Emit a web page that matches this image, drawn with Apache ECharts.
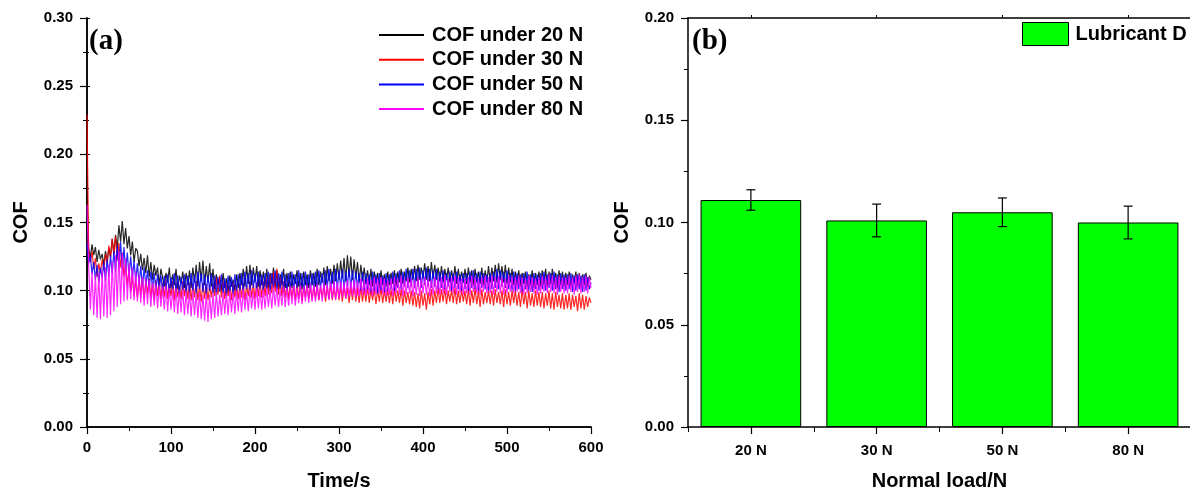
<!DOCTYPE html>
<html>
<head>
<meta charset="utf-8">
<script src="https://cdn.jsdelivr.net/npm/echarts@6/dist/echarts.min.js"></script>
<style>
  html, body { margin: 0; padding: 0; background: #fff; }
  #chart { width: 1190px; height: 491px; }
</style>
</head>
<body>
<div id="chart"></div>
<script>
// ---- Panel (a): friction coefficient vs. time, one sample every 2 s ----
const SAMPLE_STEP_S = 2;

const cof20N = [
  0.170,0.131,0.124,0.134,0.126,0.132,0.121,0.130,0.123,0.127,0.119,0.129,0.122,0.131,0.125,
  0.138,0.127,0.141,0.131,0.148,0.136,0.151,0.134,0.146,0.131,0.140,0.126,0.136,0.121,0.131,
  0.129,0.118,0.127,0.115,0.124,0.113,0.126,0.110,0.121,0.108,0.119,0.111,0.117,0.104,0.116,
  0.115,0.103,0.113,0.106,0.117,0.102,0.112,0.104,0.116,0.101,0.111,0.105,0.114,0.102,0.113,
  0.104,0.115,0.102,0.117,0.106,0.119,0.103,0.121,0.107,0.122,0.104,0.118,0.106,0.120,0.103,
  0.116,0.101,0.112,0.104,0.110,0.100,0.113,0.102,0.109,0.099,0.111,0.103,0.108,0.100,0.112,
  0.102,0.113,0.104,0.116,0.103,0.118,0.105,0.119,0.104,0.117,0.106,0.118,0.103,0.115,0.104,
  0.114,0.103,0.116,0.102,0.113,0.105,0.117,0.103,0.115,0.101,0.112,0.104,0.116,0.102,0.113,
  0.103,0.114,0.102,0.112,0.105,0.115,0.103,0.113,0.101,0.114,0.104,0.112,0.102,0.115,0.104,
  0.113,0.103,0.116,0.104,0.114,0.106,0.117,0.104,0.118,0.107,0.116,0.105,0.119,0.107,0.120,
  0.108,0.122,0.109,0.124,0.107,0.126,0.110,0.125,0.108,0.123,0.109,0.121,0.106,0.119,0.107,
  0.117,0.105,0.115,0.104,0.116,0.103,0.114,0.105,0.113,0.102,0.115,0.104,0.112,0.103,0.114,
  0.104,0.113,0.105,0.115,0.103,0.114,0.106,0.116,0.105,0.114,0.107,0.117,0.106,0.116,0.108,
  0.118,0.107,0.119,0.108,0.117,0.109,0.120,0.108,0.118,0.107,0.121,0.109,0.119,0.108,0.117,
  0.107,0.118,0.106,0.116,0.108,0.117,0.106,0.115,0.107,0.118,0.105,0.116,0.107,0.114,0.106,
  0.116,0.105,0.117,0.106,0.115,0.104,0.116,0.106,0.114,0.105,0.117,0.104,0.115,0.106,0.118,
  0.106,0.117,0.107,0.119,0.106,0.120,0.108,0.118,0.106,0.119,0.105,0.117,0.106,0.116,0.104,
  0.114,0.104,0.115,0.103,0.113,0.105,0.114,0.103,0.112,0.104,0.115,0.102,0.113,0.104,0.114,
  0.103,0.115,0.104,0.116,0.103,0.114,0.105,0.116,0.104,0.113,0.102,0.115,0.104,0.114,0.103,
  0.113,0.104,0.114,0.103,0.112,0.105,0.114,0.103,0.113,0.102,0.112,0.104,0.113,0.103,0.111,
  0.108
];

const cof30N = [
  0.229,0.127,0.121,0.129,0.116,0.124,0.110,0.120,0.113,0.123,0.115,0.127,0.119,0.133,0.124,
  0.138,0.126,0.140,0.122,0.135,0.117,0.128,0.110,0.121,0.104,0.115,0.099,0.111,0.096,0.108,
  0.095,0.108,0.097,0.110,0.094,0.107,0.098,0.109,0.095,0.106,0.093,0.108,0.096,0.107,0.094,
  0.106,0.095,0.108,0.094,0.105,0.096,0.107,0.093,0.106,0.095,0.104,0.094,0.107,0.096,0.105,
  0.094,0.106,0.093,0.105,0.095,0.107,0.093,0.104,0.092,0.106,0.094,0.105,0.093,0.104,0.095,
  0.106,0.096,0.109,0.097,0.111,0.095,0.107,0.094,0.105,0.096,0.104,0.093,0.106,0.095,0.104,
  0.094,0.105,0.095,0.106,0.093,0.104,0.096,0.107,0.095,0.105,0.094,0.106,0.096,0.108,0.095,
  0.107,0.096,0.109,0.097,0.111,0.098,0.114,0.099,0.116,0.097,0.110,0.096,0.107,0.095,0.105,
  0.094,0.105,0.095,0.104,0.093,0.106,0.094,0.105,0.092,0.104,0.095,0.106,0.094,0.103,0.093,
  0.104,0.094,0.105,0.093,0.103,0.095,0.104,0.092,0.103,0.094,0.105,0.093,0.102,0.094,0.104,
  0.093,0.103,0.092,0.104,0.094,0.102,0.091,0.103,0.093,0.104,0.092,0.102,0.091,0.103,0.092,
  0.102,0.092,0.103,0.091,0.101,0.093,0.102,0.090,0.101,0.092,0.103,0.091,0.100,0.092,0.101,
  0.091,0.101,0.090,0.102,0.092,0.100,0.091,0.101,0.089,0.100,0.091,0.099,0.090,0.100,0.089,
  0.099,0.088,0.098,0.087,0.100,0.089,0.098,0.086,0.099,0.090,0.101,0.089,0.100,0.091,0.102,
  0.091,0.101,0.092,0.102,0.090,0.100,0.092,0.101,0.091,0.102,0.090,0.100,0.091,0.101,0.092,
  0.100,0.090,0.101,0.089,0.100,0.091,0.102,0.090,0.100,0.088,0.101,0.090,0.099,0.091,0.100,
  0.090,0.100,0.089,0.101,0.091,0.099,0.090,0.100,0.088,0.101,0.090,0.099,0.089,0.100,0.091,
  0.100,0.089,0.099,0.088,0.101,0.090,0.099,0.087,0.100,0.089,0.098,0.088,0.100,0.089,0.099,
  0.088,0.099,0.087,0.098,0.089,0.100,0.087,0.098,0.086,0.099,0.088,0.097,0.087,0.098,0.086,
  0.097,0.087,0.098,0.086,0.097,0.088,0.096,0.085,0.098,0.087,0.097,0.086,0.096,0.088,0.095,
  0.091
];

const cof50N = [
  0.134,0.120,0.126,0.112,0.121,0.108,0.119,0.106,0.117,0.109,0.121,0.107,0.123,0.110,0.126,
  0.112,0.129,0.114,0.133,0.117,0.136,0.116,0.132,0.114,0.128,0.111,0.125,0.109,0.122,0.107,
  0.120,0.105,0.118,0.103,0.117,0.104,0.115,0.101,0.114,0.102,0.113,0.100,0.112,0.101,0.111,
  0.099,0.111,0.100,0.112,0.098,0.110,0.101,0.113,0.099,0.111,0.097,0.110,0.100,0.112,0.098,
  0.111,0.099,0.113,0.100,0.112,0.098,0.114,0.101,0.113,0.099,0.112,0.097,0.111,0.100,0.113,
  0.098,0.111,0.097,0.110,0.099,0.112,0.098,0.109,0.096,0.111,0.099,0.110,0.097,0.112,0.099,
  0.112,0.100,0.113,0.099,0.114,0.101,0.113,0.100,0.115,0.102,0.113,0.100,0.114,0.101,0.112,
  0.100,0.113,0.101,0.114,0.099,0.113,0.102,0.115,0.100,0.113,0.101,0.114,0.099,0.112,0.100,
  0.113,0.101,0.114,0.100,0.112,0.102,0.115,0.100,0.113,0.099,0.114,0.101,0.112,0.100,0.113,
  0.101,0.114,0.100,0.115,0.102,0.113,0.101,0.115,0.102,0.116,0.101,0.114,0.102,0.116,0.101,
  0.115,0.102,0.116,0.101,0.114,0.103,0.116,0.102,0.115,0.101,0.114,0.102,0.113,0.100,0.114,
  0.100,0.113,0.101,0.112,0.099,0.114,0.100,0.112,0.098,0.113,0.100,0.111,0.099,0.113,0.100,
  0.112,0.101,0.114,0.100,0.113,0.102,0.115,0.101,0.114,0.103,0.116,0.102,0.115,0.103,0.116,
  0.102,0.116,0.103,0.117,0.102,0.115,0.104,0.117,0.103,0.116,0.102,0.115,0.103,0.116,0.101,
  0.114,0.102,0.115,0.101,0.113,0.103,0.114,0.100,0.113,0.102,0.114,0.101,0.112,0.100,0.113,
  0.101,0.113,0.100,0.114,0.102,0.115,0.101,0.113,0.100,0.114,0.102,0.113,0.101,0.112,0.100,
  0.113,0.101,0.114,0.102,0.116,0.101,0.115,0.103,0.114,0.102,0.115,0.101,0.113,0.100,0.114,
  0.100,0.113,0.101,0.112,0.099,0.113,0.101,0.114,0.100,0.112,0.099,0.113,0.101,0.112,0.100,
  0.113,0.101,0.114,0.100,0.112,0.102,0.113,0.100,0.114,0.101,0.112,0.099,0.113,0.101,0.112,
  0.100,0.112,0.101,0.113,0.099,0.111,0.100,0.112,0.101,0.111,0.099,0.112,0.100,0.110,0.101,
  0.106
];

const cof80N = [
  0.163,0.118,0.086,0.114,0.082,0.112,0.080,0.113,0.079,0.115,0.081,0.117,0.080,0.119,0.082,
  0.122,0.085,0.126,0.088,0.129,0.090,0.127,0.092,0.124,0.093,0.120,0.094,0.117,0.093,0.114,
  0.092,0.112,0.091,0.110,0.089,0.109,0.090,0.108,0.088,0.106,0.089,0.105,0.087,0.104,0.088,
  0.103,0.086,0.104,0.085,0.102,0.086,0.101,0.084,0.102,0.083,0.100,0.084,0.101,0.082,0.100,
  0.083,0.099,0.081,0.100,0.082,0.098,0.080,0.099,0.079,0.097,0.078,0.098,0.077,0.097,0.079,
  0.098,0.080,0.099,0.081,0.097,0.082,0.099,0.083,0.098,0.082,0.100,0.084,0.099,0.083,0.100,
  0.085,0.100,0.084,0.101,0.086,0.099,0.085,0.101,0.087,0.100,0.086,0.102,0.087,0.101,0.086,
  0.101,0.087,0.102,0.088,0.101,0.087,0.103,0.089,0.102,0.088,0.101,0.089,0.103,0.088,0.102,
  0.089,0.103,0.090,0.104,0.089,0.102,0.091,0.104,0.090,0.103,0.092,0.104,0.091,0.105,0.092,
  0.104,0.092,0.105,0.093,0.104,0.092,0.106,0.094,0.105,0.093,0.106,0.094,0.107,0.093,0.106,
  0.094,0.107,0.095,0.106,0.094,0.108,0.095,0.107,0.096,0.108,0.095,0.107,0.096,0.109,0.097,
  0.108,0.096,0.109,0.097,0.108,0.096,0.110,0.097,0.109,0.098,0.110,0.097,0.109,0.096,0.108,
  0.097,0.109,0.096,0.110,0.098,0.109,0.097,0.111,0.096,0.109,0.097,0.110,0.098,0.109,0.096,
  0.108,0.097,0.110,0.096,0.109,0.098,0.110,0.097,0.109,0.096,0.108,0.097,0.110,0.098,0.109,
  0.097,0.110,0.098,0.111,0.097,0.109,0.099,0.110,0.098,0.111,0.097,0.110,0.098,0.109,0.097,
  0.109,0.098,0.110,0.097,0.111,0.099,0.110,0.098,0.109,0.097,0.110,0.099,0.111,0.098,0.110,
  0.098,0.111,0.097,0.110,0.099,0.111,0.098,0.110,0.097,0.109,0.098,0.111,0.099,0.110,0.098,
  0.110,0.099,0.111,0.098,0.110,0.097,0.109,0.098,0.111,0.099,0.110,0.098,0.109,0.097,0.110,
  0.098,0.111,0.099,0.110,0.098,0.112,0.099,0.111,0.098,0.110,0.097,0.111,0.099,0.110,0.098,
  0.110,0.098,0.111,0.099,0.110,0.097,0.111,0.099,0.112,0.098,0.110,0.099,0.111,0.098,0.110,
  0.102
];

const lineNames = ['COF under 20 N', 'COF under 30 N', 'COF under 50 N', 'COF under 80 N'];
const lineColors = ['#000000', '#ff0000', '#0000ff', '#ff00ff'];
const timeTicks = [0, 100, 200, 300, 400, 500, 600];

// ---- Panel (b): mean COF per normal load with standard deviation ----
const loadLabels = ['20 N', '30 N', '50 N', '80 N'];
const meanCOF = [0.111, 0.101, 0.105, 0.100];
const stdCOF = [0.005, 0.008, 0.007, 0.008];
const barName = 'Lubricant D';

const SANS = '"Liberation Sans", Arial, sans-serif';
const SERIF = '"Liberation Serif", "Times New Roman", serif';
const AXIS_LINE = { show: true, lineStyle: { color: '#000', width: 1.5 } };
const tickLabel = { color: '#000', fontFamily: SANS, fontWeight: 'bold', fontSize: 15 };
const axisTitle = { color: '#000', fontFamily: SANS, fontWeight: 'bold', fontSize: 20 };

const toPairs = arr => arr.map((v, i) => [i * SAMPLE_STEP_S, v]);
const lineSeriesData = [cof20N, cof30N, cof50N, cof80N];

const chart = echarts.init(document.getElementById('chart'), null, { renderer: 'canvas' });

chart.setOption({
  animation: false,
  backgroundColor: '#fff',
  grid: [
    { left: 87, top: 18, width: 504, height: 409, outerBoundsMode: 'none', containLabel: false },
    { left: 688, top: 18, width: 503, height: 409, outerBoundsMode: 'none', containLabel: false }
  ],
  xAxis: [
    { // time axis, panel (a)
      type: 'value', gridIndex: 0, position: 'bottom',
      min: timeTicks[0], max: timeTicks[timeTicks.length - 1], interval: 100,
      axisLine: AXIS_LINE,
      axisTick: { show: true, inside: false, length: 7, lineStyle: { color: '#000', width: 1.2 } },
      minorTick: { show: true, splitNumber: 2, length: 4, lineStyle: { color: '#000', width: 1 } },
      axisLabel: Object.assign({ margin: 13 }, tickLabel),
      splitLine: { show: false },
      name: 'Time/s', nameLocation: 'middle', nameGap: 44, nameTextStyle: axisTitle
    },
    { // top frame, panel (a)
      type: 'value', gridIndex: 0, position: 'top', min: 0, max: 600, interval: 100,
      axisLine: AXIS_LINE, axisTick: { show: false }, axisLabel: { show: false },
      splitLine: { show: false }
    },
    { // load axis, panel (b): ticks at band boundaries
      type: 'category', gridIndex: 1, position: 'bottom', data: loadLabels,
      axisLine: AXIS_LINE,
      axisTick: { show: true, alignWithLabel: false, length: 5, lineStyle: { color: '#000', width: 1 } },
      axisLabel: Object.assign({ margin: 16 }, tickLabel),
      splitLine: { show: false },
      name: 'Normal load/N', nameLocation: 'middle', nameGap: 44, nameTextStyle: axisTitle
    },
    { // load axis, panel (b): ticks at category centres
      type: 'category', gridIndex: 1, position: 'bottom', data: loadLabels,
      axisLine: { show: false },
      axisTick: { show: true, alignWithLabel: true, length: 7, lineStyle: { color: '#000', width: 1.2 } },
      axisLabel: { show: false }, splitLine: { show: false }
    },
    { // top frame, panel (b)
      type: 'category', gridIndex: 1, position: 'top', data: loadLabels,
      axisLine: AXIS_LINE,
      axisTick: { show: true, alignWithLabel: true, length: 3, lineStyle: { color: '#000', width: 1 } },
      axisLabel: { show: false }, splitLine: { show: false }
    }
  ],
  yAxis: [
    {
      type: 'value', gridIndex: 0, position: 'left', min: 0, max: 0.3, interval: 0.05,
      axisLine: AXIS_LINE,
      axisTick: { show: true, length: 7, lineStyle: { color: '#000', width: 1.2 } },
      minorTick: { show: true, splitNumber: 2, length: 4, lineStyle: { color: '#000', width: 1 } },
      axisLabel: Object.assign({ margin: 14, formatter: v => v.toFixed(2) }, tickLabel),
      splitLine: { show: false },
      name: 'COF', nameLocation: 'middle', nameGap: 56, nameRotate: 90, nameTextStyle: axisTitle
    },
    {
      type: 'value', gridIndex: 0, position: 'right', min: 0, max: 0.3, interval: 0.05,
      axisLine: AXIS_LINE,
      axisTick: { show: true, length: 3, lineStyle: { color: '#000', width: 1 } },
      minorTick: { show: true, splitNumber: 2, length: 2, lineStyle: { color: '#000', width: 1 } },
      axisLabel: { show: false }, splitLine: { show: false }
    },
    {
      type: 'value', gridIndex: 1, position: 'left', min: 0, max: 0.2, interval: 0.05,
      axisLine: AXIS_LINE,
      axisTick: { show: true, length: 7, lineStyle: { color: '#000', width: 1.2 } },
      minorTick: { show: true, splitNumber: 2, length: 4, lineStyle: { color: '#000', width: 1 } },
      axisLabel: Object.assign({ margin: 14, formatter: v => v.toFixed(2) }, tickLabel),
      splitLine: { show: false },
      name: 'COF', nameLocation: 'middle', nameGap: 56, nameRotate: 90, nameTextStyle: axisTitle
    }
  ],
  legend: [
    {
      orient: 'vertical', left: 379, top: 25, padding: 0,
      itemWidth: 45, itemHeight: 2, itemGap: 4.7, icon: 'rect',
      data: lineNames,
      textStyle: { color: '#000', fontFamily: SANS, fontWeight: 'bold', fontSize: 20, lineHeight: 20, padding: [0, 0, 0, 3] }
    },
    {
      orient: 'vertical', left: 1022, top: 22, padding: 0,
      itemWidth: 46, itemHeight: 23, icon: 'rect',
      data: [barName],
      itemStyle: { borderColor: '#000', borderWidth: 1 },
      textStyle: { color: '#000', fontFamily: SANS, fontWeight: 'bold', fontSize: 20, padding: [0, 0, 0, 2] }
    }
  ],
  graphic: [
    { type: 'text', left: 89, top: 27, style: { text: '(a)', fill: '#000', font: 'bold 29px ' + SERIF } },
    { type: 'text', left: 692, top: 27, style: { text: '(b)', fill: '#000', font: 'bold 29px ' + SERIF } }
  ],
  series: [
    ...lineSeriesData.map((arr, k) => ({
      name: lineNames[k], type: 'line', xAxisIndex: 0, yAxisIndex: 0,
      data: toPairs(arr), showSymbol: false, symbol: 'none',
      color: lineColors[k],
      lineStyle: { color: lineColors[k], width: 1.2, opacity: 0.85 },
      emphasis: { disabled: true }
    })),
    {
      name: barName, type: 'bar', xAxisIndex: 2, yAxisIndex: 2,
      data: meanCOF, barWidth: '80%',
      itemStyle: { color: '#00ff00', borderColor: '#000', borderWidth: 1 },
      emphasis: { disabled: true }
    },
    { // error bars
      type: 'custom', xAxisIndex: 2, yAxisIndex: 2,
      data: meanCOF.map((m, i) => [i, m - stdCOF[i], m + stdCOF[i]]),
      renderItem: (params, api) => {
        const lo = api.coord([api.value(0), api.value(1)]);
        const hi = api.coord([api.value(0), api.value(2)]);
        const cap = 4.5;
        const s = { stroke: '#000', lineWidth: 1.2 };
        return {
          type: 'group',
          children: [
            { type: 'line', shape: { x1: lo[0], y1: lo[1], x2: hi[0], y2: hi[1] }, style: s },
            { type: 'line', shape: { x1: hi[0] - cap, y1: hi[1], x2: hi[0] + cap, y2: hi[1] }, style: s },
            { type: 'line', shape: { x1: lo[0] - cap, y1: lo[1], x2: lo[0] + cap, y2: lo[1] }, style: s }
          ]
        };
      },
      z: 5
    }
  ]
});
</script>
</body>
</html>
